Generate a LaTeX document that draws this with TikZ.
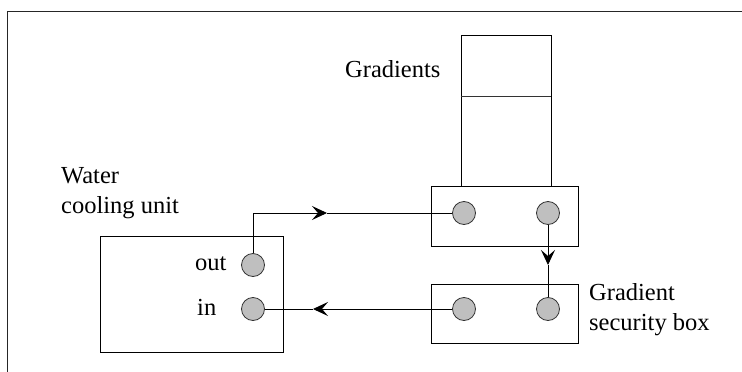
\documentclass[tikz,border=0pt]{standalone}
\usepackage{fontspec}
\setmainfont{Liberation Serif}
\usetikzlibrary{arrows.meta}
\begin{document}
\begin{tikzpicture}[x=1pt,y=-1pt,
  box/.style={draw=black, line width=0.9pt, inner sep=0pt},
  port/.style={circle, draw=black!80, fill=black!25, line width=0.8pt, minimum size=23pt, inner sep=0pt},
  pipe/.style={draw=black, line width=0.9pt},
  flow/.style={pipe, -{Stealth[length=15pt, width=14pt, inset=6pt]}},
  label/.style={font=\fontsize{24.5}{29}\selectfont, inner sep=0pt}]
\useasboundingbox (0,0) rectangle (742,372);

% outer frame (top and left edges)
\draw[line width=1pt, black!85] (7,372) -- (7,11) -- (742,11);

% gradient coil stand
\node[box, minimum width=90pt, minimum height=151pt] (stand) at (506,110.5) {};
\draw[line width=0.9pt, black!80] (stand.west |- 0,96) -- (stand.east |- 0,96);
\node[label, anchor=base west] (gradlbl) at (345,77) {Gradients};

% connector box under the coils
\node[box, minimum width=147pt, minimum height=60pt] (upper) at (504.5,216) {};
\node[port] (uL) at (464,213) {};
\node[port] (uR) at (548,213) {};

% gradient security box
\node[box, minimum width=147pt, minimum height=59pt] (lower) at (504.5,313.5) {};
\node[port] (lL) at (464,309) {};
\node[port] (lR) at (548,309) {};
\node[label, anchor=base west] (gsb1) at (589,300) {Gradient};
\node[label, anchor=base west] (gsb2) at (589,330) {security box};

% water cooling unit
\node[box, minimum width=183pt, minimum height=116pt] (water) at (191.5,294) {};
\node[port] (wOut) at (253,265) {};
\node[port] (wIn) at (253,309) {};
\node[label, anchor=base west] (outlbl) at (195,270) {out};
\node[label, anchor=base west] (inlbl) at (197,315) {in};
\node[label, anchor=base west] (wcu1) at (61,183) {Water};
\node[label, anchor=base west] (wcu2) at (61,213) {cooling unit};

% water circuit
\coordinate (bend) at (253,213);
\coordinate (tipA) at (327,213);
\coordinate (tipB) at (548,265);
\coordinate (tipC) at (313,309);
\draw[flow] (wOut.north) -- (bend) -- (tipA);
\draw[pipe] (tipA) -- (uL.west);
\draw[flow] (uR.south) -- (tipB);
\draw[pipe] (tipB) -- (lR.north);
\draw[flow] (lL.west) -- (tipC);
\draw[pipe] (tipC) -- (wIn.east);
\end{tikzpicture}
\end{document}
